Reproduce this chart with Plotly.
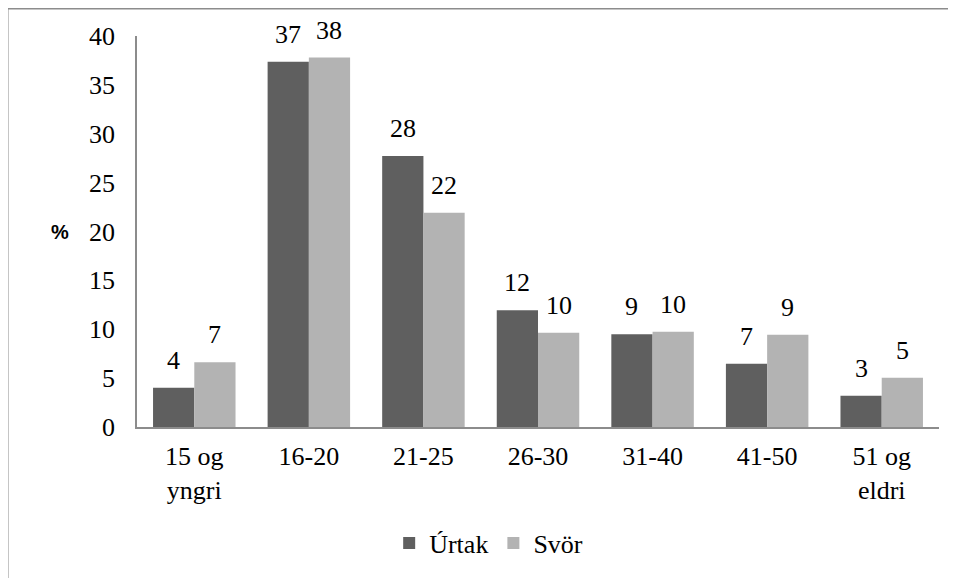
import plotly.graph_objects as go

categories = ["15 og<br>yngri", "16-20", "21-25", "26-30", "31-40", "41-50", "51 og<br>eldri"]
urtak = [4.02, 37.37, 27.72, 11.94, 9.48, 6.48, 3.20]
svor = [6.62, 37.80, 21.92, 9.65, 9.75, 9.45, 5.04]
urtak_labels = ["4", "37", "28", "12", "9", "7", "3"]
svor_labels = ["7", "38", "22", "10", "10", "9", "5"]
y_ticks = [0, 5, 10, 15, 20, 25, 30, 35, 40]

SERIF = "Liberation Serif"
FS = 26
DARK = "#5f5f5f"
LIGHT = "#b3b3b3"
AXIS = "#8c8c8c"

fig = go.Figure()
fig.add_trace(go.Bar(name="Úrtak", x=categories, y=urtak, marker=dict(color=DARK, line=dict(width=0))))
fig.add_trace(go.Bar(name="Svör", x=categories, y=svor, marker=dict(color=LIGHT, line=dict(width=0))))

annotations = []
half = 20.6
for cat, v, lab in zip(categories, urtak, urtak_labels):
    annotations.append(dict(x=cat, y=v, text=lab, xref="x", yref="y", showarrow=False,
                            xshift=-half, yshift=11, yanchor="bottom",
                            font=dict(family=SERIF, size=FS, color="#000")))
for cat, v, lab in zip(categories, svor, svor_labels):
    annotations.append(dict(x=cat, y=v, text=lab, xref="x", yref="y", showarrow=False,
                            xshift=half, yshift=11, yanchor="bottom",
                            font=dict(family=SERIF, size=FS, color="#000")))
annotations.append(dict(x=-0.096, y=0.5, xref="paper", yref="paper", text="<b>%</b>",
                        showarrow=False, xanchor="center", yanchor="middle",
                        font=dict(family="Liberation Sans", size=20, color="#000")))

W, H = 948, 570
fig.update_layout(
    width=W, height=H,
    margin=dict(l=129, r=17, t=28, b=151, autoexpand=False),
    paper_bgcolor="white", plot_bgcolor="white",
    barmode="group", bargap=0.28, bargroupgap=0,
    font=dict(family=SERIF, size=FS, color="#000"),
    showlegend=True,
    legend=dict(orientation="h", x=0.4385, xanchor="center", y=-0.2967, yanchor="middle",
                font=dict(family=SERIF, size=FS, color="#000"), itemwidth=30,
                bgcolor="rgba(0,0,0,0)"),
    annotations=annotations,
    shapes=[dict(type="rect", xref="paper", yref="paper",
                 x0=-129.5 / 802, x1=1.05, y0=-0.6, y1=(391 + 27.5) / 391,
                 line=dict(color=AXIS, width=2), fillcolor="rgba(0,0,0,0)", layer="below")],
)
fig.update_xaxes(showline=True, linecolor=AXIS, linewidth=1.5, ticks="", showgrid=False,
                 tickfont=dict(family=SERIF, size=FS), ticklabelstandoff=5, zeroline=False)
fig.update_yaxes(range=[0, 40], tickvals=y_ticks, showline=True, linecolor=AXIS, linewidth=1.5,
                 ticks="", showgrid=False, zeroline=False,
                 tickfont=dict(family=SERIF, size=FS), ticklabelstandoff=15)

fig.write_html("out.html")
